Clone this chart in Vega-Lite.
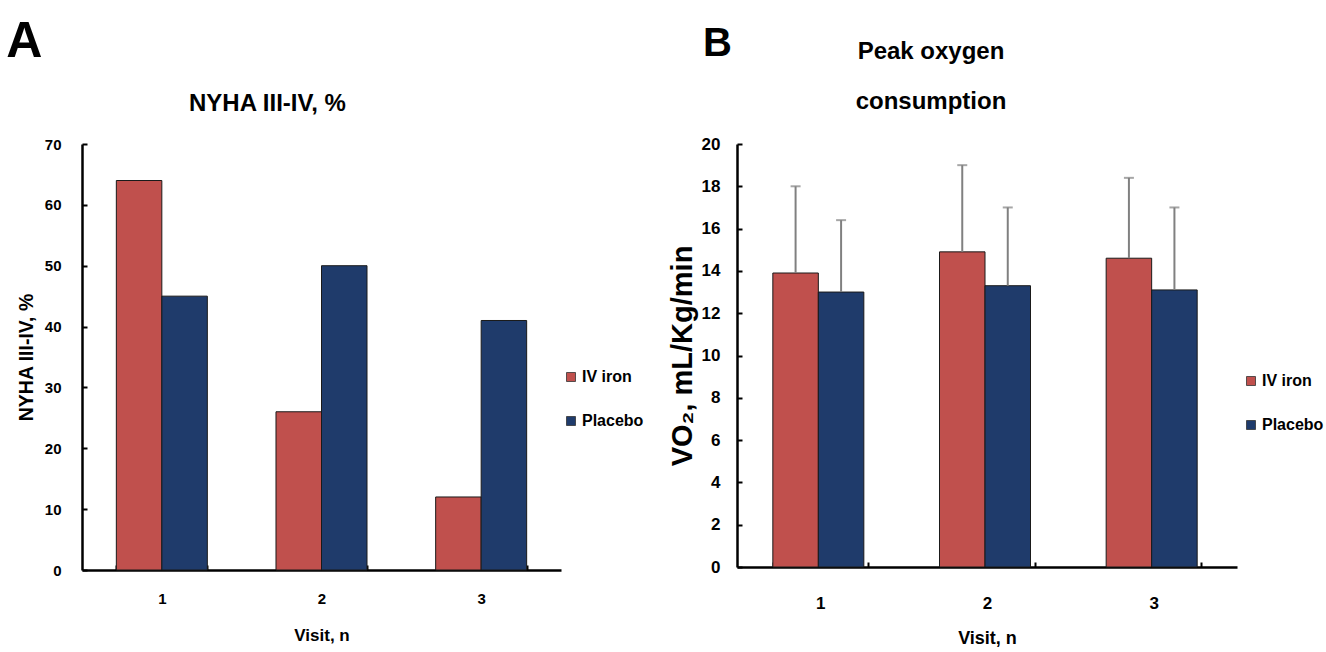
{
  "$schema": "https://vega.github.io/schema/vega-lite/v6.json",
  "background": "white",
  "padding": {"left": 6, "top": 17, "right": 0, "bottom": 0},
  "config": {"view": {"stroke": null}, "font": "Liberation Sans", "concat": {"spacing": 24}},
  "resolve": {"scale": {"color": "independent"}, "legend": {"color": "independent"}},
  "hconcat": [
    {
      "title": {"text": "A", "anchor": "start", "fontSize": 50, "font": "Liberation Sans", "fontWeight": "bold", "offset": -75, "baseline": "bottom", "dx": -10, "color": "black"},
      "vconcat": [
        {
          "width": 479,
          "height": 426,
          "title": {"text": ["", "NYHA III-IV, %"], "lineHeight": 50, "fontSize": 24, "font": "Liberation Sans", "fontWeight": "bold", "anchor": "middle", "frame": "group", "dx": -54, "baseline": "bottom", "offset": -3, "color": "black"},
          "data": {"values": [
            {"visit": "1", "group": "IV iron", "value": 64},
            {"visit": "1", "group": "Placebo", "value": 45},
            {"visit": "2", "group": "IV iron", "value": 26},
            {"visit": "2", "group": "Placebo", "value": 50},
            {"visit": "3", "group": "IV iron", "value": 12},
            {"visit": "3", "group": "Placebo", "value": 41}
          ]},
          "mark": {"type": "bar", "stroke": "#1a1a1a", "strokeWidth": 1},
          "encoding": {
            "x": {"field": "visit", "type": "nominal", "scale": {"paddingInner": 0.43, "paddingOuter": 0.215},
              "axis": {"title": "Visit, n", "labelAngle": 0, "tickBand": "extent", "tickSize": -5, "tickColor": "black", "tickWidth": 2, "domainColor": "black", "domainWidth": 2.5, "labelFont": "Liberation Sans", "labelFontWeight": "bold", "labelFontSize": 15, "labelColor": "black", "labelPadding": 26, "titleFont": "Liberation Sans", "titleFontSize": 17, "titleFontWeight": "bold", "titleColor": "black", "titlePadding": 21}},
            "xOffset": {"field": "group", "type": "nominal", "sort": ["IV iron", "Placebo"], "scale": {"paddingInner": 0, "paddingOuter": 0}},
            "y": {"field": "value", "type": "quantitative", "scale": {"domain": [0, 70], "nice": false},
              "axis": {"title": "NYHA III-IV, %", "values": [0, 10, 20, 30, 40, 50, 60, 70], "grid": false, "tickSize": -5, "tickColor": "black", "tickWidth": 2, "domainColor": "black", "domainWidth": 2.5, "labelFont": "Liberation Sans", "labelFontWeight": "bold", "labelFontSize": 15, "labelColor": "black", "labelPadding": 26, "titleFont": "Liberation Sans", "titleFontSize": 19.5, "titleFontWeight": "bold", "titleColor": "black", "titlePadding": 8}},
            "color": {"field": "group", "type": "nominal", "scale": {"domain": ["IV iron", "Placebo"], "range": ["#C0504D", "#1F3B6B"]},
              "legend": {"title": null, "orient": "none", "legendX": 481, "legendY": 225, "padding": 0, "symbolType": "square", "symbolSize": 81, "symbolStrokeColor": "#333333", "symbolStrokeWidth": 0.8, "labelFont": "Liberation Sans", "labelFontWeight": "bold", "labelFontSize": 16, "labelColor": "black", "rowPadding": 28, "labelOffset": 3}}
          }
        }
      ]
    },
    {
      "title": {"text": "B", "anchor": "start", "fontSize": 40, "font": "Liberation Sans", "fontWeight": "bold", "offset": -64, "baseline": "bottom", "dx": 35, "color": "black"},
      "vconcat": [
        {
          "width": 500,
          "height": 423,
          "title": {"text": ["Peak oxygen", "consumption"], "lineHeight": 50, "fontSize": 24, "font": "Liberation Sans", "fontWeight": "bold", "anchor": "middle", "frame": "group", "dx": -56, "baseline": "bottom", "offset": -3, "color": "black"},
          "data": {"values": [
            {"visit": "1", "group": "IV iron", "value": 13.9, "upper": 18.0},
            {"visit": "1", "group": "Placebo", "value": 13.0, "upper": 16.4},
            {"visit": "2", "group": "IV iron", "value": 14.9, "upper": 19.0},
            {"visit": "2", "group": "Placebo", "value": 13.3, "upper": 17.0},
            {"visit": "3", "group": "IV iron", "value": 14.6, "upper": 18.4},
            {"visit": "3", "group": "Placebo", "value": 13.1, "upper": 17.0}
          ]},
          "encoding": {
            "x": {"field": "visit", "type": "nominal", "scale": {"paddingInner": 0.43, "paddingOuter": 0.215},
              "axis": {"title": "Visit, n", "labelAngle": 0, "tickBand": "extent", "tickSize": -5, "tickColor": "black", "tickWidth": 2, "domainColor": "black", "domainWidth": 2.5, "labelFont": "Liberation Sans", "labelFontWeight": "bold", "labelFontSize": 17, "labelColor": "black", "labelPadding": 33, "titleFont": "Liberation Sans", "titleFontSize": 18, "titleFontWeight": "bold", "titleColor": "black", "titlePadding": 18}},
            "xOffset": {"field": "group", "type": "nominal", "sort": ["IV iron", "Placebo"], "scale": {"paddingInner": 0, "paddingOuter": 0}}
          },
          "layer": [
            {
              "mark": {"type": "bar", "stroke": "#1a1a1a", "strokeWidth": 1},
              "encoding": {
                "y": {"field": "value", "type": "quantitative", "scale": {"domain": [0, 20], "nice": false},
                  "axis": {"title": "VO₂, mL/Kg/min", "values": [0, 2, 4, 6, 8, 10, 12, 14, 16, 18, 20], "grid": false, "tickSize": -5, "tickColor": "black", "tickWidth": 2, "domainColor": "black", "domainWidth": 2.5, "labelFont": "Liberation Sans", "labelFontWeight": "bold", "labelFontSize": 17, "labelColor": "black", "labelPadding": 22, "titleFont": "Liberation Sans", "titleFontSize": 29, "titleFontWeight": "bold", "titleColor": "black", "titlePadding": 4}},
                "color": {"field": "group", "type": "nominal", "scale": {"domain": ["IV iron", "Placebo"], "range": ["#C0504D", "#1F3B6B"]},
                  "legend": {"title": null, "orient": "none", "legendX": 506, "legendY": 229, "padding": 0, "symbolType": "square", "symbolSize": 81, "symbolStrokeColor": "#333333", "symbolStrokeWidth": 0.8, "labelFont": "Liberation Sans", "labelFontWeight": "bold", "labelFontSize": 16, "labelColor": "black", "rowPadding": 28, "labelOffset": 3}}
              }
            },
            {
              "mark": {"type": "rule", "color": "#808080", "strokeWidth": 2},
              "encoding": {
                "y": {"field": "value", "type": "quantitative"},
                "y2": {"field": "upper"}
              }
            },
            {
              "mark": {"type": "tick", "color": "#808080", "size": 10, "thickness": 2},
              "encoding": {
                "y": {"field": "upper", "type": "quantitative"}
              }
            }
          ]
        }
      ]
    }
  ]
}
